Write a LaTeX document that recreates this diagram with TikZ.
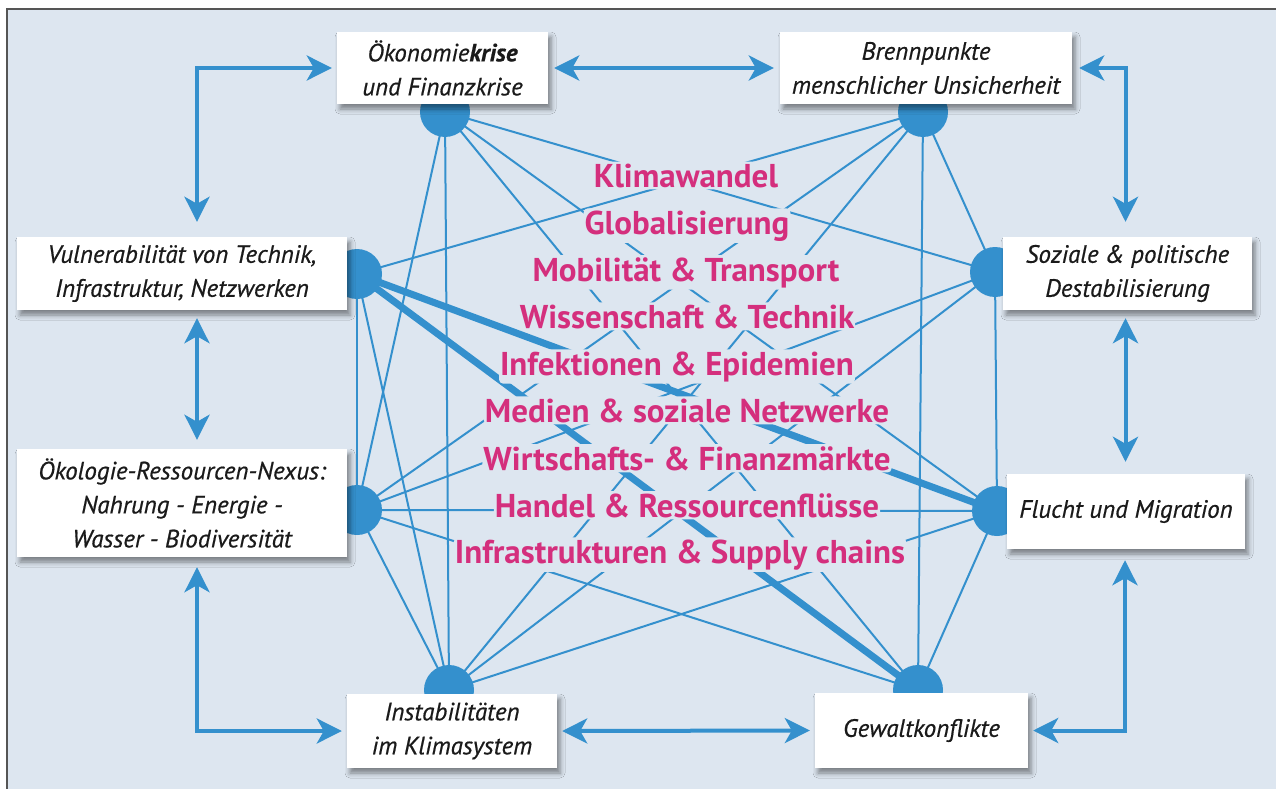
\documentclass[tikz,border=0pt]{standalone}
\usepackage{fontspec}
\setmainfont{PT Sans}
\newfontfamily\boxfont[FakeBold=0.6]{PT Sans}
\usetikzlibrary{arrows.meta,shadows.blur,calc}
\definecolor{bgc}{HTML}{DDE6F0}
\definecolor{netblue}{HTML}{3490CD}
\definecolor{pinkc}{HTML}{D42F7D}
\definecolor{framec}{HTML}{555555}
\definecolor{txtc}{HTML}{1A1A1A}
\begin{document}
\begin{tikzpicture}[x=1pt,y=-1pt,
  hub/.style={circle,fill=netblue,minimum size=50pt,inner sep=0pt},
  netline/.style={draw=netblue,line width=2pt},
  fatline/.style={draw=netblue,line width=7pt},
  box/.style={fill=white,draw=none,inner sep=0pt,align=center,text=txtc,
    font=\boxfont\itshape\fontsize{25}{34}\selectfont,
    blur shadow={shadow xshift=3pt,shadow yshift=-5pt,shadow blur radius=5pt,shadow opacity=45}},
  pinkt/.style={anchor=base,text=pinkc,fill=bgc,inner xsep=1pt,inner ysep=2pt,rounded corners=4pt,
    font=\bfseries\fontsize{33}{36}\selectfont},
  arr/.style={draw=netblue,line width=4pt,{Stealth[length=25pt,width=25pt,inset=7pt]}-{Stealth[length=25pt,width=25pt,inset=7pt]}}
]
\useasboundingbox (0,0) rectangle (1276,789);
\fill[white] (0,0) rectangle (1276,789);
\draw[fill=bgc,draw=framec,line width=2.5pt] (7,9) rectangle (1320,830);

% hubs
\node[hub] (c1) at (445,112) {};
\node[hub] (c2) at (923,112) {};
\node[hub] (c3) at (357,274) {};
\node[hub] (c4) at (995,272) {};
\node[hub] (c5) at (357,510) {};
\node[hub] (c6) at (997,511) {};
\node[hub] (c7) at (449,690) {};
\node[hub] (c8) at (918,690) {};

% network lines
\foreach \a/\b in {c1/c4,c1/c5,c1/c6,c1/c7,c1/c8,
                   c2/c3,c2/c4,c2/c5,c2/c7,c2/c8,
                   c3/c5,c3/c7,
                   c4/c5,c4/c6,c4/c7,
                   c5/c6,c5/c7,c5/c8,
                   c6/c7,c6/c8}
  \draw[netline] (\a.center) -- (\b.center);
\draw[fatline] (c3.center) -- (c6.center);
\draw[fatline] (c3.center) -- (c8.center);

% central terms
\node[pinkt] (p1) at (686,187) {Klimawandel};
\node[pinkt] (p2) at (687,234) {Globalisierung};
\node[pinkt] (p3) at (686,281) {Mobilität \& Transport};
\node[pinkt] (p4) at (687,328) {Wissenschaft \& Technik};
\node[pinkt] (p5) at (677,375) {Infektionen \& Epidemien};
\node[pinkt] (p6) at (687,422) {Medien \& soziale Netzwerke};
\node[pinkt] (p7) at (687,470) {Wirtschafts- \& Finanzmärkte};
\node[pinkt] (p8) at (687,517) {Handel \& Ressourcenflüsse};
\node[pinkt] (p9) at (680,563) {Infrastrukturen \& Supply chains};

% boxes
\node[box,minimum width=211pt,minimum height=72pt] (b1) at (442.5,68) {Ökonomie\textbf{krise}\\und Finanzkrise};
\node[box,minimum width=292pt,minimum height=72pt] (b2) at (926,68) {Brennpunkte\\menschlicher Unsicherheit};
\node[box,minimum width=330pt,minimum height=73pt] (b3) at (182,273.5) {Vulnerabilität von Technik,\\Infrastruktur, Netzwerken};
\node[box,minimum width=249pt,minimum height=73pt] (b4) at (1127.5,273.5) {Soziale \& politische\\Destabilisierung};
\node[box,minimum width=330pt,minimum height=108pt] (b5) at (182,503) {Ökologie-Ressourcen-Nexus:\\Nahrung - Energie -\\Wasser - Biodiversität};
\node[box,minimum width=238pt,minimum height=75pt] (b6) at (1126,511.5) {Flucht und Migration};
\node[box,minimum width=210pt,minimum height=74pt] (b7) at (452,731) {Instabilitäten\\im Klimasystem};
\node[box,minimum width=213pt,minimum height=75pt] (b8) at (921.5,730.5) {Gewaltkonflikte};

% ring arrows
\draw[arr] ([xshift=15pt,yshift=15pt]b3.north) |- ([xshift=-5pt]b1.west);
\draw[arr] ([xshift=6pt]b1.east) -- ([xshift=-6pt]b2.west);
\draw[arr] ([xshift=7pt]b2.east) -| ([xshift=-2pt,yshift=15pt]b4.north);
\draw[arr] ([xshift=-2pt,yshift=-8pt]b4.south) -- ([xshift=-2pt,yshift=12pt]b4.south |- b6.north);
\draw[arr] ([xshift=-1pt,yshift=-11pt]b6.south) |- ([xshift=5pt]b8.east);
\draw[arr] ([xshift=5pt]b7.east) -- ([xshift=-5pt]b8.west);
\draw[arr] ([xshift=15pt,yshift=-10pt]b5.south) |- ([xshift=-5pt]b7.west);
\draw[arr] ([xshift=15pt,yshift=-8pt]b3.south) -- ([xshift=15pt,yshift=9pt]b5.north);
\end{tikzpicture}
\end{document}
